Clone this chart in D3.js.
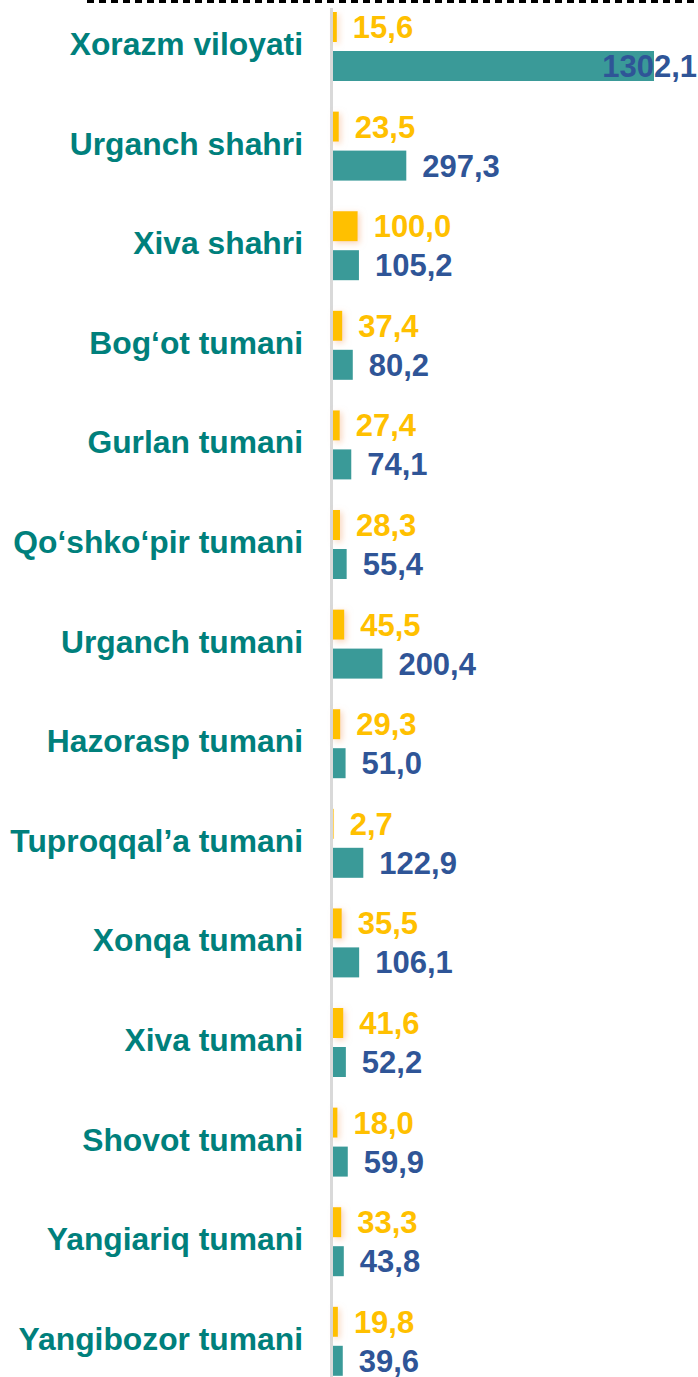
<!DOCTYPE html>
<html>
<head>
<meta charset="utf-8">
<script src="https://cdn.jsdelivr.net/npm/d3@7"></script>
<style>
  html, body { margin: 0; padding: 0; background: #fff; }
  svg { display: block; }
  text { font-family: "Liberation Sans", Arial, sans-serif; font-weight: bold; }
</style>
</head>
<body>
<svg id="chart" width="698" height="1377"></svg>
<script>
// categories (top to bottom)
const categories = [
  "Xorazm viloyati", "Urganch shahri", "Xiva shahri", "Bog‘ot tumani",
  "Gurlan tumani", "Qo‘shko‘pir tumani", "Urganch tumani", "Hazorasp tumani",
  "Tuproqqal’a tumani", "Xonqa tumani", "Xiva tumani", "Shovot tumani",
  "Yangiariq tumani", "Yangibozor tumani"
];
// yellow series
const seriesA = [15.6, 23.5, 100.0, 37.4, 27.4, 28.3, 45.5, 29.3, 2.7, 35.5, 41.6, 18.0, 33.3, 19.8];
// teal series
const seriesB = [1302.1, 297.3, 105.2, 80.2, 74.1, 55.4, 200.4, 51.0, 122.9, 106.1, 52.2, 59.9, 43.8, 39.6];

const W = 698, H = 1377;
const svg = d3.select("#chart");

const data = categories.map((c, i) => ({ name: c, a: seriesA[i], b: seriesB[i] }));

const x = d3.scaleLinear().domain([0, d3.max(seriesB)]).range([333, 654]);
const y = d3.scaleBand().domain(categories).range([12, 12 + 99.6 * categories.length]);

const barH = 30;
const fmt = v => d3.format(".1f")(v).replace(".", ",");

// glow behind the yellow bars
const defs = svg.append("defs");
const f = defs.append("filter").attr("id", "glow")
  .attr("x", "-100%").attr("y", "-50%").attr("width", "400%").attr("height", "200%");
f.append("feDropShadow")
  .attr("dx", 2).attr("dy", 2).attr("stdDeviation", 3)
  .attr("flood-color", "#F4B183").attr("flood-opacity", 0.55);

// top dashed line
svg.append("line")
  .attr("x1", 87).attr("x2", W).attr("y1", 1.5).attr("y2", 1.5)
  .style("stroke", "#000").style("stroke-width", 3).style("stroke-dasharray", "7,5");

// vertical axis line
svg.append("line")
  .attr("x1", 331.5).attr("x2", 331.5).attr("y1", 8).attr("y2", H)
  .style("stroke", "#D9D9D9").style("stroke-width", 3);

const rows = svg.selectAll(".row")
  .data(data)
  .enter()
  .append("g")
  .attr("class", "row");

rows.append("text")
  .attr("x", 303)
  .attr("y", d => y(d.name) + 43)
  .attr("text-anchor", "end")
  .style("font-size", "31.8px")
  .style("fill", "#00807C")
  .text(d => d.name);

rows.append("rect")
  .attr("x", x(0))
  .attr("y", d => y(d.name))
  .attr("width", d => x(d.a) - x(0))
  .attr("height", barH)
  .attr("filter", "url(#glow)")
  .style("fill", "#FFC000");

rows.append("rect")
  .attr("x", x(0))
  .attr("y", d => y(d.name) + 39)
  .attr("width", d => x(d.b) - x(0))
  .attr("height", barH)
  .style("fill", "#3A9A98");

rows.append("text")
  .attr("x", d => x(d.a) + 16)
  .attr("y", d => y(d.name) + 26)
  .style("font-size", "31px")
  .style("fill", "#FFC000")
  .text(d => fmt(d.a));

rows.append("text")
  .attr("y", d => y(d.name) + 65)
  .style("font-size", "31px")
  .style("fill", "#2F5597")
  .text(d => fmt(d.b))
  .each(function (d) {
    const t = d3.select(this);
    const w = this.getComputedTextLength();
    let px = x(d.b) + 16;
    if (px + w > W - 1) px = W - 1 - w;
    t.attr("x", px);
  });
</script>
</body>
</html>
